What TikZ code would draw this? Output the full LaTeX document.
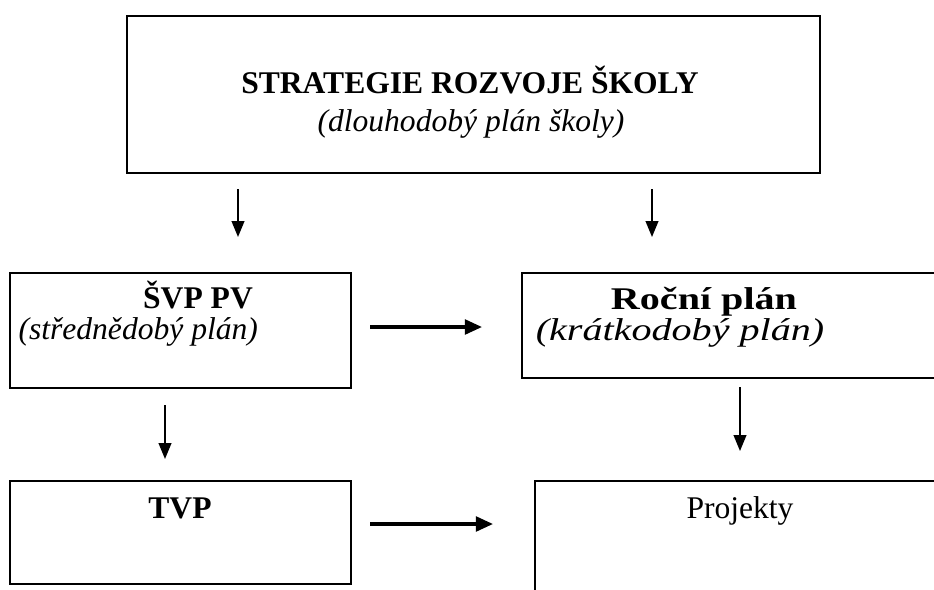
\documentclass[tikz,border=0pt]{standalone}
\usepackage{fontspec}
\usepackage{graphicx}
\setmainfont{Liberation Serif}
\usetikzlibrary{arrows.meta}

\tikzset{
  box/.style={draw,line width=0.8pt,inner sep=0pt,anchor=north west},
  txt/.style={anchor=base,inner sep=0pt,font=\fontsize{12}{14}\selectfont},
  down/.style={line width=0.6pt,-{Triangle[length=6pt,width=4.8pt]}},
  across/.style={line width=1.2pt,-{Triangle[length=6.5pt,width=5.6pt]}}
}
% wide letters of the right box
\newcommand{\widetxt}[1]{\scalebox{1.27}[1]{#1}}

\begin{document}
\begin{tikzpicture}[x=0.38pt,y=-0.38pt]

% Frame
\useasboundingbox (0,0) rectangle (934,589);
\clip (0,0) rectangle (934,589);

% Boxes
\node[box,minimum width=263.3pt,minimum height=59.7pt] (strategie) at (126,15) {};
\node[box,minimum width=129.6pt,minimum height=43.7pt] (svp) at (9,272) {};
\node[box,minimum width=166.8pt,minimum height=39.9pt] (rocni) at (521,272) {};
\node[box,minimum width=129.6pt,minimum height=39.1pt] (tvp) at (9,480) {};
\node[box,minimum width=161.9pt,minimum height=49.4pt] (projekty) at (534,480) {};

% Texts
\node[txt] (strategieT) at (470,93) {\bfseries STRATEGIE ROZVOJE ŠKOLY};
\node[txt] (strategieS) at (471,131) {\itshape (dlouhodobý plán školy)};
\node[txt] (svpT) at (198,308) {\bfseries ŠVP PV};
\node[txt,anchor=base west] (svpS) at (18,339) {\itshape (střednědobý plán)};
\node[txt] (rocniT) at (704,309) {\widetxt{\bfseries Roční plán}};
\node[txt] (rocniS) at (680,340) {\widetxt{\itshape (krátkodobý plán)}};
\node[txt] (tvpT) at (180,518) {\bfseries TVP};
\node[txt] (projektyT) at (740,518) {Projekty};

% Arrow ends
\coordinate (a1) at (238,189); \coordinate (b1) at (238,237);
\coordinate (a2) at (652,189); \coordinate (b2) at (652,237);
\coordinate (a3) at (370,327); \coordinate (b3) at (482,327);
\coordinate (a4) at (165,405); \coordinate (b4) at (165,459);
\coordinate (a5) at (740,387); \coordinate (b5) at (740,451);
\coordinate (a6) at (370,524); \coordinate (b6) at (493,524);

% Arrows
\draw[down] (a1) -- (b1);
\draw[down] (a2) -- (b2);
\draw[across] (a3) -- (b3);
\draw[down] (a4) -- (b4);
\draw[down] (a5) -- (b5);
\draw[across] (a6) -- (b6);

\end{tikzpicture}
\end{document}
